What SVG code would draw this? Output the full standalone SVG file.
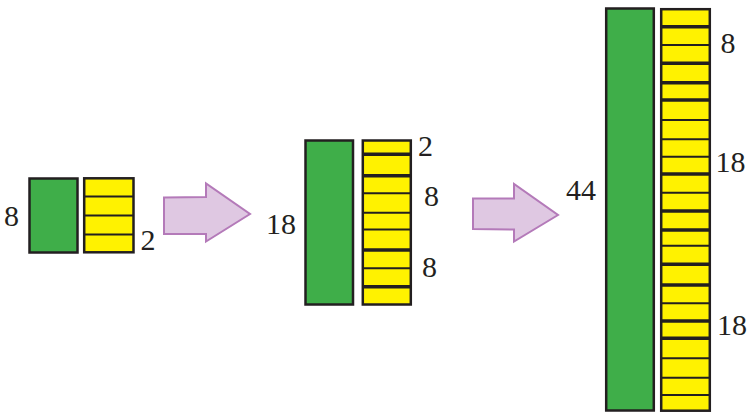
<svg xmlns="http://www.w3.org/2000/svg" width="747" height="413" viewBox="0 0 747 413">
<style>
.g{fill:#3fae49;stroke:#231f20;stroke-width:2.5}
.y{fill:#fff200;stroke:#231f20;stroke-width:2.5}
.l{stroke:#231f20;stroke-width:2}
.t{stroke:#231f20;stroke-width:3.5}
.a{fill:#dfc8e2;stroke:#b47ab9;stroke-width:2}
</style>
<rect width="747" height="413" fill="#ffffff"/>
<g font-family="Liberation Serif, Times New Roman, serif" font-size="30" fill="#231f20">
<g id="stack1">
<rect class="g" x="29.5" y="178.5" width="48" height="74"/>
<rect class="y" x="84.2" y="178.3" width="49.3" height="74"/>
<line class="l" x1="84.2" y1="196.5" x2="133.5" y2="196.5"/>
<line class="l" x1="84.2" y1="215.5" x2="133.5" y2="215.5"/>
<line class="l" x1="84.2" y1="234.5" x2="133.5" y2="234.5"/>
<text x="4" y="226">8</text>
<text x="140.5" y="250">2</text>
</g>
<g id="stack2">
<rect class="g" x="305.5" y="140.5" width="47.5" height="164"/>
<rect class="y" x="362.8" y="140.5" width="48" height="164"/>
<line class="t" x1="362.8" y1="154.3" x2="410.8" y2="154.3"/>
<line class="t" x1="362.8" y1="175.7" x2="410.8" y2="175.7"/>
<line class="l" x1="362.8" y1="193.3" x2="410.8" y2="193.3"/>
<line class="l" x1="362.8" y1="212.7" x2="410.8" y2="212.7"/>
<line class="l" x1="362.8" y1="229.5" x2="410.8" y2="229.5"/>
<line class="t" x1="362.8" y1="250" x2="410.8" y2="250"/>
<line class="l" x1="362.8" y1="268.3" x2="410.8" y2="268.3"/>
<line class="t" x1="362.8" y1="286.7" x2="410.8" y2="286.7"/>
<text x="266" y="234">18</text>
<text x="418" y="156">2</text>
<text x="424" y="206">8</text>
<text x="422" y="277">8</text>
</g>
<g id="stack3">
<rect class="g" x="606.2" y="8.5" width="47.6" height="402"/>
<rect class="y" x="661.2" y="9.2" width="48.6" height="401.5"/>
<line class="t" x1="661.2" y1="26.7" x2="709.8" y2="26.7"/>
<line class="l" x1="661.2" y1="45" x2="709.8" y2="45"/>
<line class="t" x1="661.2" y1="63.3" x2="709.8" y2="63.3"/>
<line class="t" x1="661.2" y1="82.7" x2="709.8" y2="82.7"/>
<line class="t" x1="661.2" y1="100" x2="709.8" y2="100"/>
<line class="l" x1="661.2" y1="120" x2="709.8" y2="120"/>
<line class="l" x1="661.2" y1="139.3" x2="709.8" y2="139.3"/>
<line class="l" x1="661.2" y1="156.7" x2="709.8" y2="156.7"/>
<line class="t" x1="661.2" y1="174" x2="709.8" y2="174"/>
<line class="l" x1="661.2" y1="192.7" x2="709.8" y2="192.7"/>
<line class="t" x1="661.2" y1="211" x2="709.8" y2="211"/>
<line class="t" x1="661.2" y1="230" x2="709.8" y2="230"/>
<line class="l" x1="661.2" y1="245.7" x2="709.8" y2="245.7"/>
<line class="t" x1="661.2" y1="264.3" x2="709.8" y2="264.3"/>
<line class="t" x1="661.2" y1="285" x2="709.8" y2="285"/>
<line class="l" x1="661.2" y1="303.3" x2="709.8" y2="303.3"/>
<line class="t" x1="661.2" y1="321" x2="709.8" y2="321"/>
<line class="t" x1="661.2" y1="338.3" x2="709.8" y2="338.3"/>
<line class="l" x1="661.2" y1="358.3" x2="709.8" y2="358.3"/>
<line class="l" x1="661.2" y1="377.7" x2="709.8" y2="377.7"/>
<line class="l" x1="661.2" y1="395" x2="709.8" y2="395"/>
<text x="566" y="200">44</text>
<text x="720.5" y="53">8</text>
<text x="715.5" y="172">18</text>
<text x="717" y="335">18</text>
</g>
</g>
<g id="connectors">
<polygon class="a" points="164,197.5 206,197 206,183.5 250,214 206,241.5 206,234 164,234"/>
<polygon class="a" points="473,198.5 514,198.5 514,184 558,215 514,241.5 514,229.5 473,229"/>
</g>
</svg>
